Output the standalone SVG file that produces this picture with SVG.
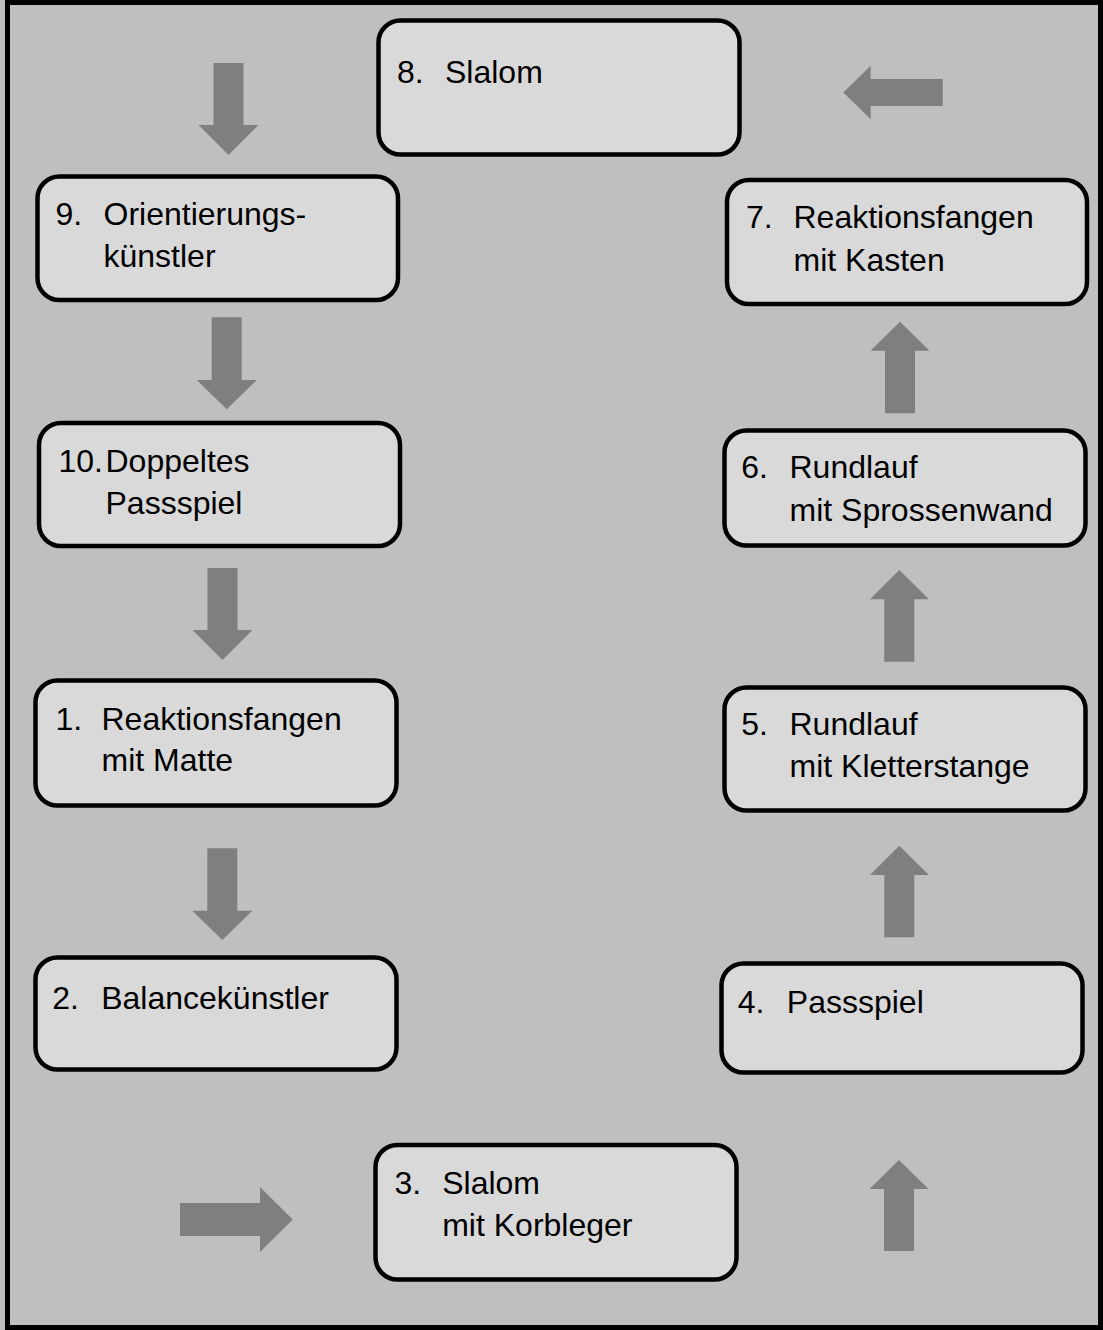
<svg xmlns="http://www.w3.org/2000/svg" width="1103" height="1330" viewBox="0 0 1103 1330">
<style>
.bg{fill:#BFBFBF}
.frame{fill:#BFBFBF;stroke:#000;stroke-width:5}
.node rect{fill:#D9D9D9;stroke:#000;stroke-width:4.5}
.node text{font-family:"Liberation Sans",Arial,sans-serif;font-size:32px;fill:#000}
.arrow{fill:#7F7F7F}
</style>
<rect class="bg" x="0" y="0" width="1103" height="1330"/>
<rect class="frame" x="7.5" y="2.5" width="1093" height="1325"/>

<g id="connectors">
  <polygon class="arrow" points="213.5,63 243.5,63 243.5,125 258.5,125 228.5,155 198.5,125 213.5,125"/>
  <polygon class="arrow" points="211.7,317.3 241.7,317.3 241.7,380 256.7,380 226.7,409.3 196.7,380 211.7,380"/>
  <polygon class="arrow" points="207.5,568 237.5,568 237.5,630 252.5,630 222.5,660 192.5,630 207.5,630"/>
  <polygon class="arrow" points="207.3,848.3 237.3,848.3 237.3,910.7 252.3,910.7 222.3,940 192.3,910.7 207.3,910.7"/>
  <polygon class="arrow" points="180,1203 260,1203 260,1187 292.7,1219.5 260,1252 260,1236 180,1236"/>
  <polygon class="arrow" points="884,1251 884,1189 869.5,1189 899,1160 928.5,1189 914,1189 914,1251"/>
  <polygon class="arrow" points="884.3,937.3 884.3,875 870,875 899.3,845.7 929,875 914.3,875 914.3,937.3"/>
  <polygon class="arrow" points="884.3,661.7 884.3,599.3 870,599.3 899.3,570 929,599.3 914.3,599.3 914.3,661.7"/>
  <polygon class="arrow" points="885,413.3 885,350.7 870.5,350.7 900,321.7 929.5,350.7 915,350.7 915,413.3"/>
  <polygon class="arrow" points="942.7,79 870.7,79 870.7,65.7 843.3,92.5 870.7,119.3 870.7,106 942.7,106"/>
</g>

<g id="node8" class="node">
  <rect x="378.5" y="20.5" width="361" height="134" rx="22"/>
  <text x="397" y="82.5">8.</text><text x="445" y="82.5">Slalom</text>
</g>
<g id="node9" class="node">
  <rect x="37.5" y="176.5" width="360.5" height="123.5" rx="22"/>
  <text x="55.5" y="224.5">9.</text><text x="103.5" y="224.5">Orientierungs-</text><text x="103.5" y="267">künstler</text>
</g>
<g id="node7" class="node">
  <rect x="727" y="180" width="360" height="124" rx="22"/>
  <text x="746" y="228">7.</text><text x="793.5" y="228">Reaktionsfangen</text><text x="793.5" y="270.5">mit Kasten</text>
</g>
<g id="node10" class="node">
  <rect x="39" y="423" width="361" height="123" rx="22"/>
  <text x="58.5" y="471.5">10.</text><text x="105.5" y="471.5">Doppeltes</text><text x="105.5" y="513.5">Passspiel</text>
</g>
<g id="node6" class="node">
  <rect x="724.5" y="430.5" width="361" height="115" rx="22"/>
  <text x="741.2" y="478">6.</text><text x="789.5" y="478">Rundlauf</text><text x="789.5" y="520.5">mit Sprossenwand</text>
</g>
<g id="node1" class="node">
  <rect x="35.5" y="680.5" width="361" height="125" rx="22"/>
  <text x="55.5" y="729.5">1.</text><text x="101.5" y="729.5">Reaktionsfangen</text><text x="101.5" y="771">mit Matte</text>
</g>
<g id="node5" class="node">
  <rect x="724.5" y="687.5" width="361" height="123" rx="22"/>
  <text x="741.2" y="734.5">5.</text><text x="789.5" y="734.5">Rundlauf</text><text x="789.5" y="777">mit Kletterstange</text>
</g>
<g id="node2" class="node">
  <rect x="35.5" y="957.5" width="361" height="112" rx="22"/>
  <text x="52.2" y="1008.5">2.</text><text x="101.2" y="1008.5">Balancekünstler</text>
</g>
<g id="node4" class="node">
  <rect x="721.5" y="963.5" width="361" height="109" rx="22"/>
  <text x="737.8" y="1012.5">4.</text><text x="786.8" y="1012.5">Passspiel</text>
</g>
<g id="node3" class="node">
  <rect x="375.5" y="1145" width="361" height="134.5" rx="22"/>
  <text x="394.5" y="1193.5">3.</text><text x="442.2" y="1193.5">Slalom</text><text x="442.2" y="1235.5">mit Korbleger</text>
</g>
</svg>
